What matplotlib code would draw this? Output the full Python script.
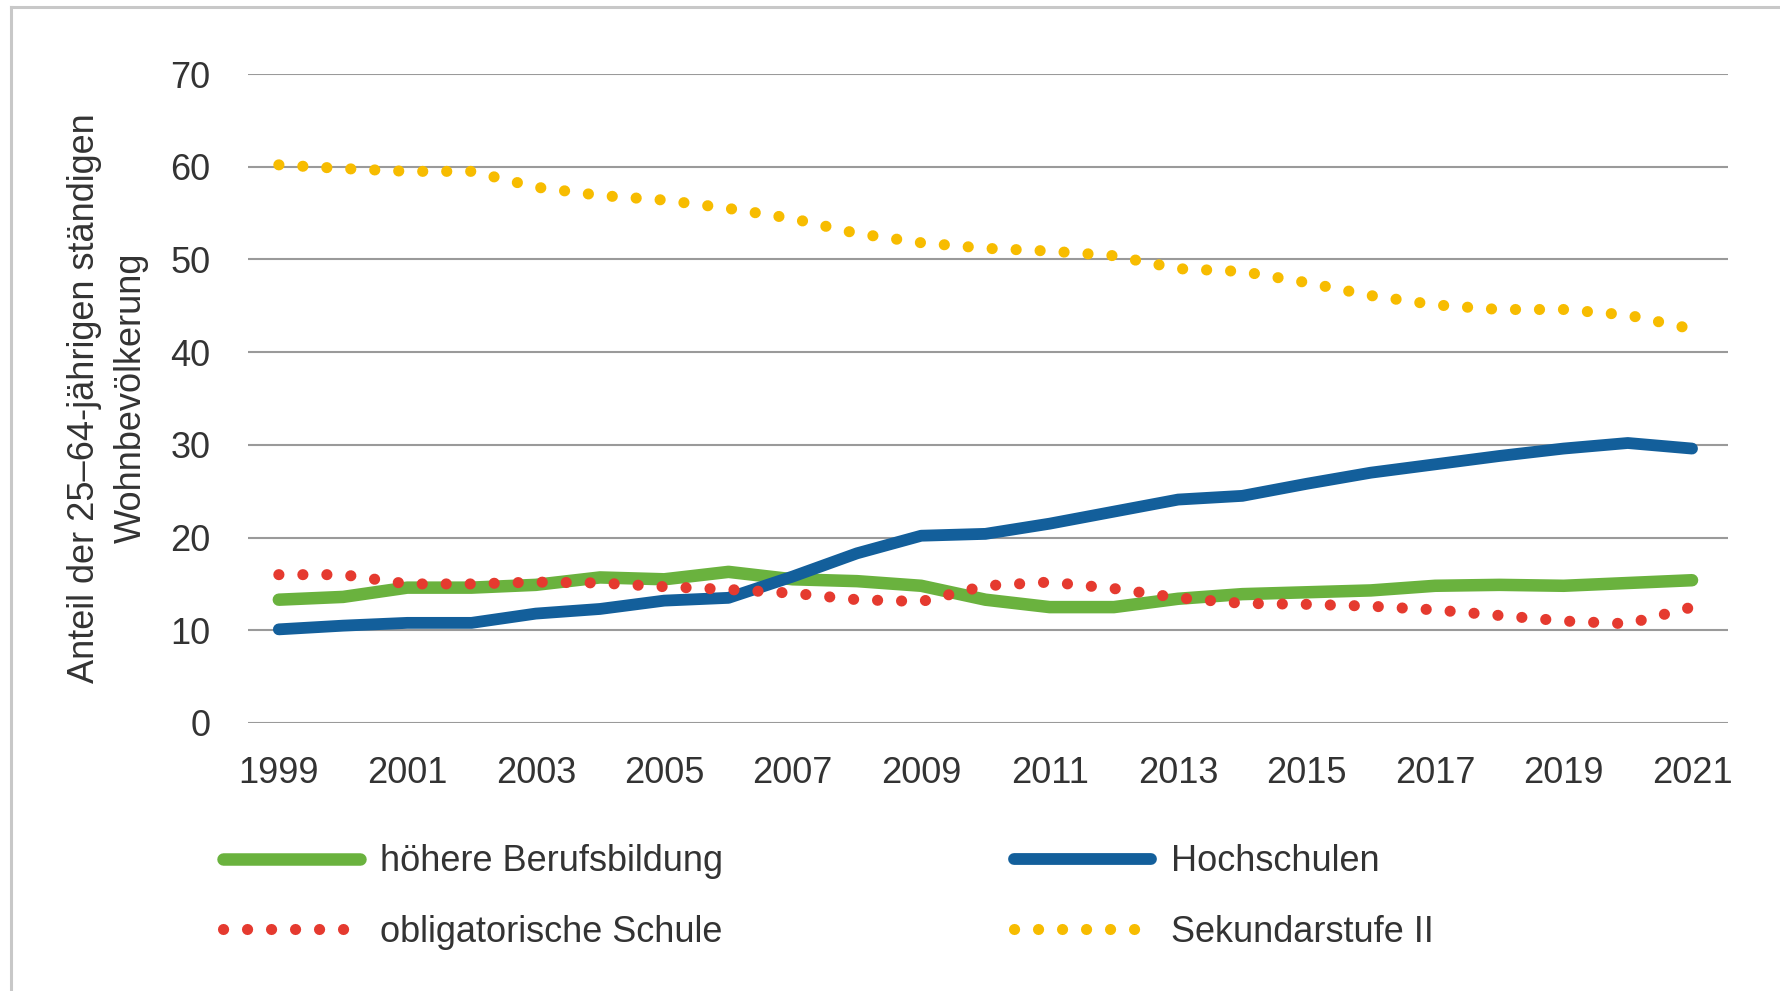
import matplotlib
matplotlib.use("Agg")
import matplotlib.pyplot as plt
from matplotlib.lines import Line2D

years = list(range(1999, 2022))

# Anteil in %
hoehere_berufsbildung = [13.3, 13.6, 14.6, 14.6, 14.9, 15.7, 15.5, 16.3, 15.5, 15.3, 14.8, 13.3,
                         12.5, 12.5, 13.4, 13.9, 14.1, 14.3, 14.8, 14.9, 14.8, 15.1, 15.4]
hochschulen = [10.1, 10.5, 10.8, 10.8, 11.8, 12.3, 13.2, 13.5, 15.8, 18.3, 20.2, 20.4,
               21.5, 22.8, 24.1, 24.5, 25.8, 27.0, 27.9, 28.8, 29.6, 30.2, 29.6]
obligatorische_schule = [16.0, 16.0, 15.0, 15.0, 15.2, 15.1, 14.7, 14.4, 14.0, 13.3, 13.1, 14.8,
                         15.2, 14.5, 13.5, 12.9, 12.8, 12.6, 12.2, 11.6, 11.0, 10.7, 12.5]
sekundarstufe_2 = [60.2, 59.8, 59.5, 59.5, 57.8, 56.9, 56.4, 55.5, 54.4, 52.8, 51.8, 51.2,
                   50.9, 50.4, 49.0, 48.7, 47.5, 46.1, 45.1, 44.6, 44.6, 44.0, 42.5]

y_ticks = [0, 10, 20, 30, 40, 50, 60, 70]
x_ticks = list(range(1999, 2022, 2))

text_color = "#333333"
plt.rcParams['font.family'] = ['Liberation Sans', 'DejaVu Sans']
plt.rcParams['font.size'] = 26

W, H = 1781, 991
fig = plt.figure(figsize=(W / 100, H / 100), dpi=100)
ax = fig.add_axes([248 / W, 1 - 723 / H, (1728 - 248) / W, (723 - 74) / H])

dot_style = (0, (0.01, 2.15))
ax.plot(years, hoehere_berufsbildung, color="#6AB23E", lw=9, solid_capstyle="round",
        solid_joinstyle="round", label="höhere Berufsbildung")
ax.plot(years, hochschulen, color="#135F9B", lw=8.5, solid_capstyle="round",
        solid_joinstyle="round", label="Hochschulen")
ax.plot(years, obligatorische_schule, color="#E53A2F", lw=8, linestyle=dot_style,
        dash_capstyle="round", label="obligatorische Schule")
ax.plot(years, sekundarstufe_2, color="#F7BC00", lw=8, linestyle=dot_style,
        dash_capstyle="round", label="Sekundarstufe II")

ax.set_xlim(1998.52, 2021.56)
ax.set_ylim(0, 70)
ax.set_yticks(y_ticks)
ax.set_xticks(x_ticks)
ax.grid(axis="y", color="#9a9a9a", lw=1.5)
ax.set_axisbelow(True)
for s in ax.spines.values():
    s.set_visible(False)
ax.tick_params(length=0, colors=text_color, labelsize=26)
ax.tick_params(axis="y", pad=27)
ax.tick_params(axis="x", pad=24)

fig.text(108 / W, 1 - 398 / H, "Anteil der 25–64-jährigen ständigen\nWohnbevölkerung",
         rotation=90, ha="center", va="center", multialignment="center",
         color=text_color, fontsize=26, linespacing=1.45)

handles, labels = ax.get_legend_handles_labels()
order = [0, 2, 1, 3]
leg = fig.legend([handles[i] for i in order], [labels[i] for i in order], ncol=2,
                 loc="center left", bbox_to_anchor=(205 / W, 1 - 897 / H),
                 frameon=False, borderpad=0, handlelength=3.8, handletextpad=0.55,
                 columnspacing=8.05, labelspacing=0.97, fontsize=26)
for t in leg.get_texts():
    t.set_color(text_color)

# Rahmen oben und links
fig.add_artist(Line2D([11 / W, 11 / W], [0, 1 - 7 / H], color="#c8c8c8", lw=2.2))
fig.add_artist(Line2D([11 / W, 1], [1 - 7 / H, 1 - 7 / H], color="#c8c8c8", lw=2.2))

fig.savefig("out.png", dpi=100)
